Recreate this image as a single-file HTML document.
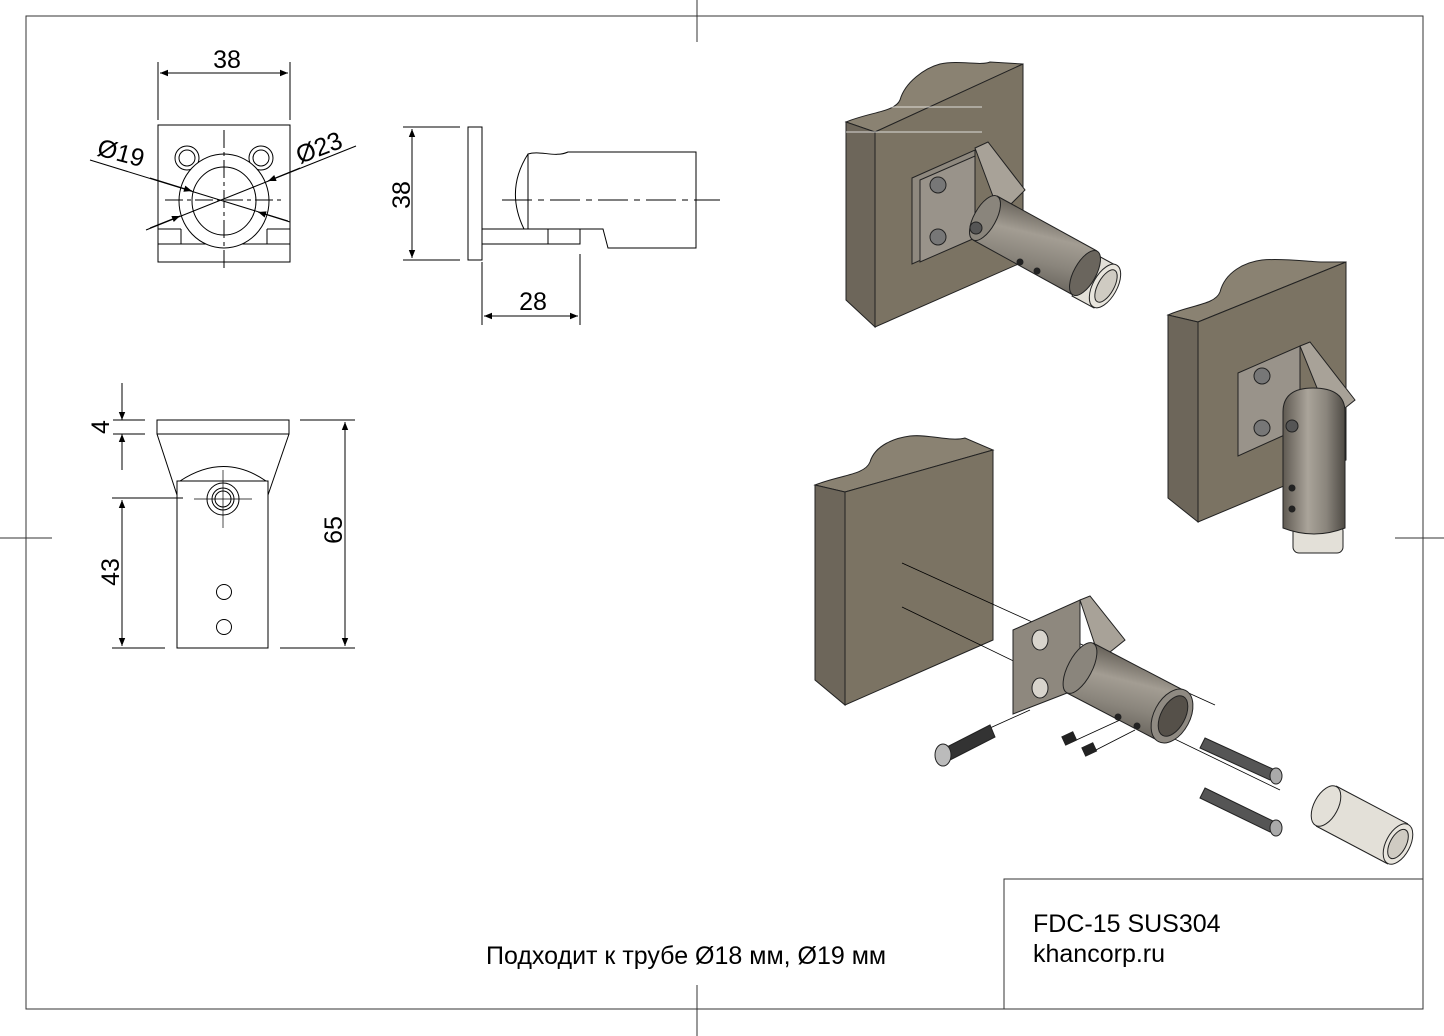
<!DOCTYPE html>
<html><head><meta charset="utf-8"><style>
html,body{margin:0;padding:0;background:#fff}
svg{display:block}
text{font-family:"Liberation Sans",sans-serif;fill:#000}
</style></head><body>
<svg width="1444" height="1036" viewBox="0 0 1444 1036" xmlns="http://www.w3.org/2000/svg">
<defs>
<marker id="a" viewBox="0 0 10 10" refX="10" refY="5" markerWidth="14" markerHeight="8" markerUnits="userSpaceOnUse" orient="auto-start-reverse"><path d="M0,1 L10,5 L0,9 Z" fill="#000"/></marker>
<linearGradient id="cyl" x1="0.3" y1="0" x2="0" y2="1"><stop offset="0" stop-color="#5f5a52"/><stop offset="0.3" stop-color="#a39d93"/><stop offset="0.55" stop-color="#8a857c"/><stop offset="1" stop-color="#4e4a44"/></linearGradient>
<linearGradient id="cylv" x1="0" y1="0" x2="1" y2="0"><stop offset="0" stop-color="#5f5a52"/><stop offset="0.4" stop-color="#aaa49a"/><stop offset="0.7" stop-color="#8a857c"/><stop offset="1" stop-color="#4e4a44"/></linearGradient>
</defs>
<g fill="none" stroke="#333" stroke-width="1">
<rect x="26" y="16" width="1397" height="993"/>
<line x1="697" y1="0" x2="697" y2="42"/><line x1="697" y1="985" x2="697" y2="1036"/>
<line x1="0" y1="538" x2="52" y2="538"/><line x1="1395" y1="538" x2="1444" y2="538"/>
<rect x="1004" y="879" width="419" height="130"/>
</g>
<text x="1033" y="932" font-size="25">FDC-15 SUS304</text>
<text x="1033" y="962" font-size="25">khancorp.ru</text>
<text x="486" y="964" font-size="25">Подходит к трубе Ø18 мм, Ø19 мм</text>

<!-- top-left view -->
<g fill="none" stroke="#000" stroke-width="1">
<line x1="158" y1="62" x2="158" y2="120"/><line x1="290" y1="62" x2="290" y2="120"/>
<line x1="160" y1="73" x2="288" y2="73" marker-start="url(#a)" marker-end="url(#a)"/>
<rect x="158" y="125" width="132" height="137"/>
<line x1="158" y1="229" x2="181" y2="229"/><line x1="267" y1="229" x2="290" y2="229"/>
<line x1="158" y1="244" x2="290" y2="244"/>
<line x1="181" y1="229" x2="181" y2="244"/><line x1="267" y1="229" x2="267" y2="244"/>
<circle cx="187" cy="158" r="12"/><circle cx="187" cy="158" r="8"/>
<circle cx="261" cy="158" r="12"/><circle cx="261" cy="158" r="8"/>
<ellipse cx="224" cy="201" rx="45" ry="47" fill="#fff"/>
<ellipse cx="224" cy="201" rx="32" ry="34"/>
<line x1="165" y1="200" x2="283" y2="200" stroke-dasharray="18,4,4,4"/>
<line x1="224" y1="130" x2="224" y2="272" stroke-dasharray="18,4,4,4"/>
<line x1="90" y1="160" x2="288" y2="221"/>
<line x1="150" y1="178" x2="192" y2="191" marker-end="url(#a)"/>
<line x1="290" y1="222" x2="258" y2="212" marker-end="url(#a)"/>
<line x1="146" y1="230" x2="356" y2="146"/>
<line x1="150" y1="228" x2="180" y2="216" marker-end="url(#a)"/>
<line x1="300" y1="168" x2="268" y2="181" marker-end="url(#a)"/>
</g>
<text x="227" y="68" font-size="25" text-anchor="middle">38</text>
<text x="0" y="0" font-size="25" transform="translate(96,155) rotate(15)">Ø19</text>
<text x="0" y="0" font-size="25" transform="translate(300,164) rotate(-21)">Ø23</text>

<!-- side view -->
<g fill="none" stroke="#000" stroke-width="1">
<line x1="403" y1="127" x2="460" y2="127"/><line x1="403" y1="260" x2="460" y2="260"/>
<line x1="412" y1="129" x2="412" y2="258" marker-start="url(#a)" marker-end="url(#a)"/>
<rect x="468" y="127" width="14" height="133"/>
<rect x="482" y="229" width="98" height="15"/>
<line x1="548" y1="229" x2="548" y2="244"/>
<path d="M528,229 L528,154 C540,150 555,158 568,152 L696,152 L696,248 L608,248 L603,229 L580,229"/>
<path d="M528,154 Q505,190 524,229"/>
<line x1="502" y1="200" x2="720" y2="200" stroke-dasharray="30,6,6,6"/>
<line x1="482" y1="262" x2="482" y2="325"/><line x1="580" y1="254" x2="580" y2="325"/>
<line x1="484" y1="316" x2="578" y2="316" marker-start="url(#a)" marker-end="url(#a)"/>
</g>
<text x="0" y="0" font-size="25" text-anchor="middle" transform="translate(410,195) rotate(-90)">38</text>
<text x="533" y="310" font-size="25" text-anchor="middle">28</text>

<!-- bottom-left view -->
<g fill="none" stroke="#000" stroke-width="1">
<rect x="157" y="420" width="132" height="14"/>
<line x1="157" y1="434" x2="177" y2="495"/><line x1="289" y1="434" x2="268" y2="495"/>
<rect x="177" y="481" width="91" height="167"/>
<path d="M180,481 Q224,452 266,481"/>
<circle cx="223" cy="499" r="16"/><circle cx="223" cy="499" r="11"/><circle cx="223" cy="499" r="8"/>
<line x1="194" y1="499" x2="252" y2="499" stroke-width="0.7"/><line x1="223" y1="470" x2="223" y2="528" stroke-width="0.7"/>
<circle cx="224" cy="592" r="7.5"/><circle cx="224" cy="627" r="7.5"/>
<line x1="113" y1="420" x2="145" y2="420"/><line x1="113" y1="434" x2="145" y2="434"/>
<line x1="122" y1="383" x2="122" y2="420" marker-end="url(#a)"/>
<line x1="122" y1="470" x2="122" y2="434" marker-end="url(#a)"/>
<line x1="112" y1="498" x2="183" y2="498"/><line x1="112" y1="648" x2="165" y2="648"/>
<line x1="122" y1="500" x2="122" y2="646" marker-start="url(#a)" marker-end="url(#a)"/>
<line x1="300" y1="420" x2="355" y2="420"/><line x1="280" y1="648" x2="355" y2="648"/>
<line x1="345" y1="422" x2="345" y2="646" marker-start="url(#a)" marker-end="url(#a)"/>
</g>
<text x="0" y="0" font-size="25" text-anchor="middle" transform="translate(109,427) rotate(-90)">4</text>
<text x="0" y="0" font-size="25" text-anchor="middle" transform="translate(119,572) rotate(-90)">43</text>
<text x="0" y="0" font-size="25" text-anchor="middle" transform="translate(342,530) rotate(-90)">65</text>

<!-- 3D block 1 -->
<g stroke="#222" stroke-width="1">
<path d="M846,122 C870,112 895,112 900,100 C905,82 925,68 940,64 C960,60 980,66 990,62 L1023,64 L875,132 Z" fill="#8a8272"/>
<path d="M846,122 L875,132 L875,327 L846,300 Z" fill="#6d665a"/>
<path d="M875,132 L1023,64 L1023,262 L875,327 Z" fill="#7b7363"/>
<path d="M975,148 L988,142 L1025,190 L1000,215 Z" fill="#a8a298"/>
<path d="M912,178 L975,150 L975,236 L912,264 Z" fill="#8e887e"/>
<path d="M920,180 L975,156 L975,238 L920,262 Z" fill="#99938a"/>
<circle cx="938" cy="185" r="8" fill="#777"/><circle cx="938" cy="237" r="8" fill="#777"/>
<path d="M997,196 L1097,251 L1073,295 L973,240 Z" fill="url(#cyl)" stroke="none"/>
<line x1="997" y1="196" x2="1097" y2="251"/><line x1="973" y1="240" x2="1073" y2="295"/>
<ellipse cx="985" cy="218" rx="11" ry="25" transform="rotate(29 985 218)" fill="#8a857c"/>
<circle cx="976" cy="228" r="6" fill="#555"/>
<path d="M1095,254 L1117,266 L1094,308 L1072,296 Z" fill="#e3e0d8"/>
<ellipse cx="1085" cy="273" rx="11" ry="25" transform="rotate(29 1085 273)" fill="#6a655d"/>
<ellipse cx="1105" cy="286" rx="12" ry="24" transform="rotate(29 1105 286)" fill="#e8e5dd"/>
<ellipse cx="1106" cy="286" rx="8" ry="18" transform="rotate(29 1106 286)" fill="#cfcbc2"/>
<circle cx="1020" cy="262" r="3" fill="#222"/><circle cx="1037" cy="271" r="3" fill="#222"/>
</g>
<line x1="846" y1="107" x2="982" y2="107" stroke="#fff" stroke-width="0.8"/>
<line x1="846" y1="132" x2="982" y2="132" stroke="#fff" stroke-width="0.8"/>

<!-- 3D block 2 -->
<g stroke="#222" stroke-width="1">
<path d="M1168,315 C1190,305 1215,305 1220,292 C1225,272 1245,262 1262,260 C1285,258 1310,262 1322,262 L1346,262 L1198,322 Z" fill="#8a8272"/>
<path d="M1168,315 L1198,322 L1198,522 L1168,498 Z" fill="#6d665a"/>
<path d="M1198,322 L1346,262 L1346,460 L1198,522 Z" fill="#7b7363"/>
<path d="M1300,346 L1310,342 L1355,400 L1330,420 Z" fill="#a8a298"/>
<path d="M1238,373 L1300,346 L1300,428 L1238,456 Z" fill="#99938a"/>
<circle cx="1262" cy="376" r="8" fill="#777"/><circle cx="1262" cy="428" r="8" fill="#777"/>
<rect x="1293" y="525" width="50" height="28" rx="6" fill="#e3e0d8"/>
<path d="M1283,412 Q1283,388 1313,388 Q1345,388 1345,412 L1345,528 Q1314,540 1283,528 Z" fill="url(#cylv)"/>
<circle cx="1292" cy="426" r="6" fill="#555"/>
<circle cx="1292" cy="488" r="3" fill="#222"/><circle cx="1292" cy="509" r="3" fill="#222"/>
</g>

<!-- 3D block 3 exploded -->
<g stroke="#222" stroke-width="1">
<path d="M815,485 C840,475 865,475 870,462 C875,445 895,438 910,436 C930,434 950,442 965,438 L993,450 L845,492 Z" fill="#8a8272"/>
<path d="M815,485 L845,492 L845,705 L815,680 Z" fill="#6d665a"/>
<path d="M845,492 L993,450 L993,640 L845,705 Z" fill="#7b7363"/>
</g>
<g stroke="#000" stroke-width="0.8" fill="none">
<line x1="902" y1="563" x2="1215" y2="705"/>
<line x1="902" y1="607" x2="1280" y2="790"/>
<line x1="990" y1="728" x2="1030" y2="710"/>
<line x1="1072" y1="742" x2="1120" y2="720"/>
<line x1="1092" y1="752" x2="1135" y2="730"/>
</g>
<g stroke="#222" stroke-width="1">
<path d="M1080,600 L1090,596 L1125,640 L1100,660 Z" fill="#a8a298"/>
<path d="M1013,630 L1080,600 L1080,688 L1013,714 Z" fill="#8e887e"/>
<ellipse cx="1040" cy="640" rx="8" ry="10" fill="#d8d4cc"/><ellipse cx="1040" cy="688" rx="8" ry="10" fill="#d8d4cc"/>
<path d="M1093,643 L1183,690 L1157,740 L1067,693 Z" fill="url(#cyl)" stroke="none"/>
<line x1="1093" y1="643" x2="1183" y2="690"/><line x1="1067" y1="693" x2="1157" y2="740"/>
<ellipse cx="1080" cy="668" rx="12" ry="28" transform="rotate(28 1080 668)" fill="#8a857c"/>
<ellipse cx="1172" cy="716" rx="18" ry="29" transform="rotate(28 1172 716)" fill="#8f8a82"/>
<ellipse cx="1173" cy="716" rx="12" ry="22" transform="rotate(28 1173 716)" fill="#555049"/>
<circle cx="1118" cy="717" r="3" fill="#222"/><circle cx="1137" cy="726" r="3" fill="#222"/>
<path d="M945,748 L990,725 L995,737 L950,760 Z" fill="#333"/>
<ellipse cx="943" cy="755" rx="8" ry="11" fill="#bbb"/>
<path d="M1205,738 L1275,770 L1270,780 L1200,748 Z" fill="#555"/>
<ellipse cx="1276" cy="776" rx="6" ry="8" fill="#aaa"/>
<path d="M1205,788 L1275,822 L1270,832 L1200,798 Z" fill="#555"/>
<ellipse cx="1276" cy="828" rx="6" ry="8" fill="#aaa"/>
<rect x="1063" y="734" width="12" height="9" fill="#222" transform="rotate(-25 1069 738)"/>
<rect x="1083" y="745" width="12" height="9" fill="#222" transform="rotate(-25 1089 749)"/>
<path d="M1336,786 L1408,824 L1388,864 L1316,826 Z" fill="#e3e0d8" stroke="none"/>
<line x1="1336" y1="786" x2="1408" y2="824"/><line x1="1316" y1="826" x2="1388" y2="864"/>
<ellipse cx="1326" cy="806" rx="12" ry="22" transform="rotate(28 1326 806)" fill="#e3e0d8"/>
<ellipse cx="1398" cy="844" rx="12" ry="22" transform="rotate(28 1398 844)" fill="#e8e5dd"/>
<ellipse cx="1398" cy="844" rx="8" ry="16" transform="rotate(28 1398 844)" fill="#cfcbc2"/>
</g>
</svg>
</body></html>
